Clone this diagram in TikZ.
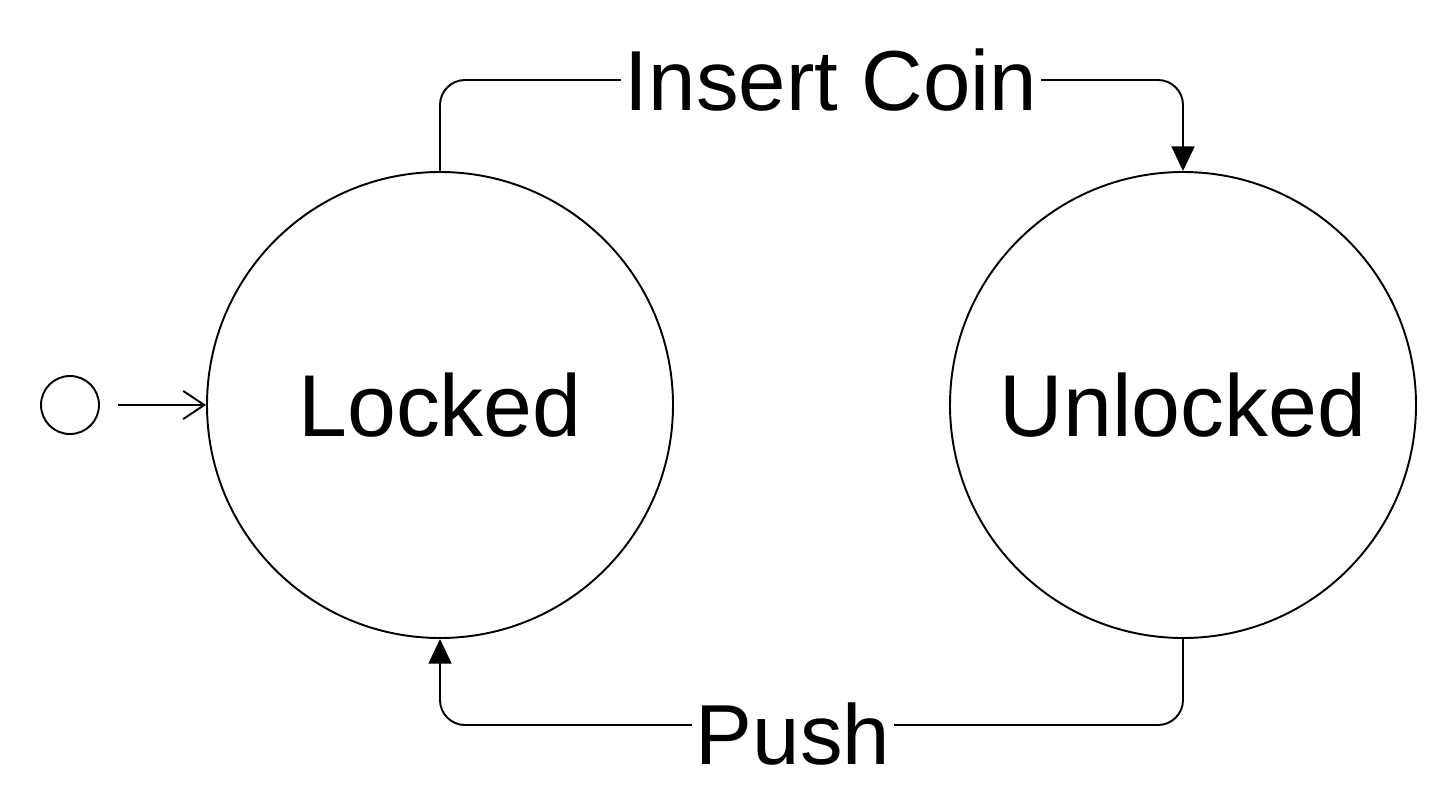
\documentclass[tikz,border=0pt]{standalone}
\usepackage{fontspec}
\setmainfont{Liberation Sans}
\usetikzlibrary{arrows.meta}
\begin{document}
\begin{tikzpicture}[x=0.02cm,y=-0.02cm,line width=1.1pt,
  state/.style={draw,circle,minimum size=466*0.02cm,inner sep=0pt,font=\fontsize{50}{54}\selectfont},
  lbl/.style={fill=white,inner sep=2pt,font=\fontsize{48.5}{52}\selectfont},
  edge/.style={rounded corners=0.5cm,-{Triangle[length=14pt,width=13pt]}}]
\useasboundingbox (0,0) rectangle (1440,805);
\node[state] (L) at (440,405) {Locked};
\node[state] (U) at (1183,405) {Unlocked};
\node[draw,circle,minimum size=58*0.02cm,inner sep=0pt] (I) at (70,405) {};
\coordinate (a) at (118,405);
\draw[-{Straight Barb[length=12pt,width=16pt]}] (a) -- (L.west);
\draw[edge] (L.north) -- (440,80) -- (1183,80) -- (U.north);
\node[lbl] (ic) at (831,80) {Insert Coin};
\draw[edge] (U.south) -- (1183,725) -- (440,725) -- (L.south);
\node[lbl] (p) at (793,734) {Push};
\end{tikzpicture}
\end{document}
